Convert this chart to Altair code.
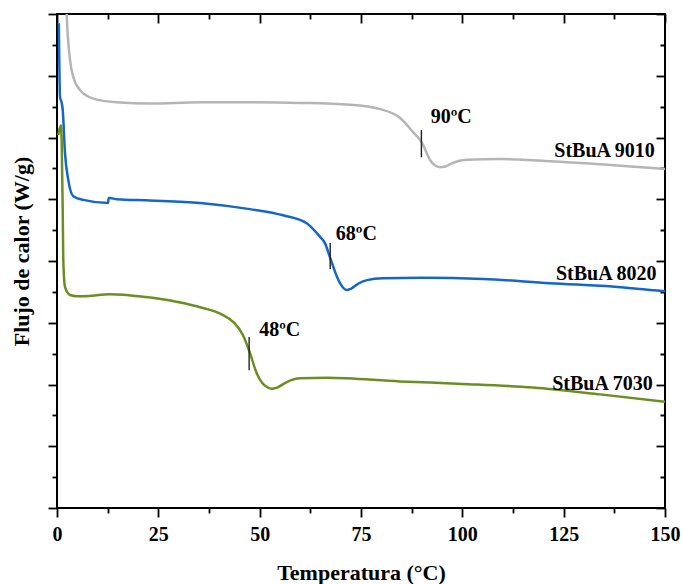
import altair as alt
import pandas as pd

# ---- data ----
gray_x = [2.2, 2.39, 3.21, 4.02, 5.67, 8.96, 14.7, 22.9, 35.3, 47.6, 60.0, 72.3, 79.7, 84.6, 87.8, 90.1, 92.0, 93.2, 94.5, 95.8, 97.0, 99.0, 101.2, 109.3, 125.8, 150.0]
gray_y = [8.4, 8.01, 7.26, 6.98, 6.77, 6.63, 6.57, 6.55, 6.57, 6.57, 6.56, 6.53, 6.46, 6.32, 6.09, 5.91, 5.64, 5.55, 5.52, 5.53, 5.57, 5.62, 5.64, 5.65, 5.60, 5.49]

blue_x = [0.45, 0.75, 1.0, 1.41, 1.97, 2.79, 4.02, 6.49, 12.6, 12.75, 13.08, 14.73, 22.95, 35.3, 47.6, 55.8, 61.6, 64.9, 66.1, 67.4, 68.2, 69.1, 70.0, 71.5, 72.5, 74.5, 76.5, 80.4, 90.0, 105.1, 121.6, 138.2, 150.0]
blue_y = [7.85, 6.65, 6.6, 6.45, 5.75, 5.31, 5.05, 4.99, 4.94, 5.02, 5.02, 5.0, 4.98, 4.94, 4.84, 4.74, 4.61, 4.39, 4.29, 4.05, 3.9, 3.74, 3.62, 3.53, 3.55, 3.64, 3.69, 3.72, 3.73, 3.71, 3.64, 3.58, 3.51]

green_x = [0.3, 0.99, 1.16, 1.41, 1.55, 1.97, 3.21, 4.86, 6.49, 13.08, 21.3, 29.5, 36.0, 40.5, 43.5, 45.8, 47.4, 49.3, 50.6, 51.8, 53.0, 54.3, 56.7, 60.0, 66.6, 84.6, 100.0, 117.4, 134.0, 150.0]
green_y = [6.04, 6.20, 5.91, 4.83, 4.02, 3.58, 3.45, 3.43, 3.43, 3.46, 3.42, 3.34, 3.24, 3.14, 3.01, 2.81, 2.55, 2.18, 2.03, 1.96, 1.93, 1.95, 2.04, 2.10, 2.11, 2.05, 2.01, 1.95, 1.84, 1.72]

series_names = ["StBuA 9010", "StBuA 8020", "StBuA 7030"]
series_colors = ["#b5b5b5", "#1466c8", "#6b8e23"]

# glass-transition marks
tg_x = [89.9, 67.4, 47.4]
tg_y1 = [6.12, 4.29, 2.77]
tg_y2 = [5.68, 3.87, 2.23]

# temperature annotations
tl_x = [92.2, 68.8, 49.9]
tl_y = [6.23, 4.34, 2.79]
tl_text = ["90ºC", "68ºC", "48ºC"]

# series labels
sl_x = [147.5, 147.9, 147.0]
sl_y = [5.68, 3.69, 1.91]

x_ticks = [0, 12.5, 25, 37.5, 50, 62.5, 75, 87.5, 100, 112.5, 125, 137.5, 150]
y_ticks = [i * 0.5 for i in range(17)]

# ---- tables ----
rows = []
for name, xs, ys in zip(series_names, [gray_x, blue_x, green_x], [gray_y, blue_y, green_y]):
    for a, b in zip(xs, ys):
        rows.append({"serie": name, "T": a, "Q": b})
curves = pd.DataFrame(rows)
tg = pd.DataFrame({"T": tg_x, "y1": tg_y1, "y2": tg_y2})
tl = pd.DataFrame({"T": tl_x, "Q": tl_y, "txt": tl_text})
sl = pd.DataFrame({"T": sl_x, "Q": sl_y, "txt": series_names})

FONT = "Liberation Serif"
xscale = alt.Scale(domain=[0, 150], nice=False, zero=False)
yscale = alt.Scale(domain=[0, 8], nice=False, zero=False)
minor_x = "datum.value % 25 !== 0"
minor_y = "datum.value % 1 !== 0"

common_axis = dict(grid=False, domain=False, tickColor="black", tickWidth=1.8,
                   labelFont=FONT, labelFontWeight="bold", labelFontSize=20, labelColor="black",
                   titleFont=FONT, titleFontWeight="bold", titleFontSize=22, titleColor="black")

x_bottom = alt.Axis(orient="bottom", values=x_ticks, title="Temperatura (°C)",
                    labelExpr="datum.value % 25 === 0 ? datum.label : ''",
                    tickSize={"condition": {"test": minor_x, "value": 5}, "value": 9},
                    labelPadding=7, labelFlush=False,
                    titleBaseline="alphabetic", titleY=71, **common_axis)
y_left = alt.Axis(orient="left", values=y_ticks, labels=False, title="Flujo de calor (W/g)",
                  tickSize={"condition": {"test": minor_y, "value": 5}, "value": 9},
                  titleBaseline="alphabetic", titleX=-29, titleY=237, titleAngle=270,
                  **common_axis)
x_top = alt.Axis(orient="top", values=x_ticks, labels=False, title=None, offset=-9, tickSize=9,
                 tickDash={"condition": {"test": minor_x, "value": [0, 4, 5, 0]}, "value": [9, 0]},
                 **common_axis)
y_right = alt.Axis(orient="right", values=y_ticks, labels=False, title=None, offset=-9, tickSize=9,
                   tickDash={"condition": {"test": minor_y, "value": [0, 4, 5, 0]}, "value": [9, 0]},
                   **common_axis)

lines = alt.Chart(curves).mark_line(strokeWidth=2.5, interpolate="monotone", clip=True).encode(
    x=alt.X("T:Q", scale=xscale, axis=x_bottom),
    y=alt.Y("Q:Q", scale=yscale, axis=y_left),
    color=alt.Color("serie:N", scale=alt.Scale(domain=series_names, range=series_colors), legend=None),
    detail="serie:N",
)

marks = alt.Chart(tg).mark_rule(color="#222222", strokeWidth=1.4).encode(
    x=alt.X("T:Q", scale=xscale, axis=x_top),
    y=alt.Y("y1:Q", scale=yscale, axis=y_right),
    y2="y2:Q",
)

temps = alt.Chart(tl).mark_text(align="left", baseline="alphabetic", font=FONT, fontWeight="bold",
                                fontSize=20, color="black").encode(
    x=alt.X("T:Q", scale=xscale, axis=None),
    y=alt.Y("Q:Q", scale=yscale, axis=None),
    text="txt:N",
)

labels = alt.Chart(sl).mark_text(align="right", baseline="alphabetic", font=FONT, fontWeight="bold",
                                 fontSize=20, color="black").encode(
    x=alt.X("T:Q", scale=xscale, axis=None),
    y=alt.Y("Q:Q", scale=yscale, axis=None),
    text="txt:N",
)

chart = alt.layer(lines, marks, temps, labels).properties(
    width=608, height=494,
    autosize=alt.AutoSizeParams(type="none"),
    padding={"left": 57, "top": 14, "right": 18, "bottom": 76},
    background="white",
).configure_view(stroke="black", strokeWidth=2)

chart.save("out.html", embed_options={"renderer": "svg", "actions": False})
